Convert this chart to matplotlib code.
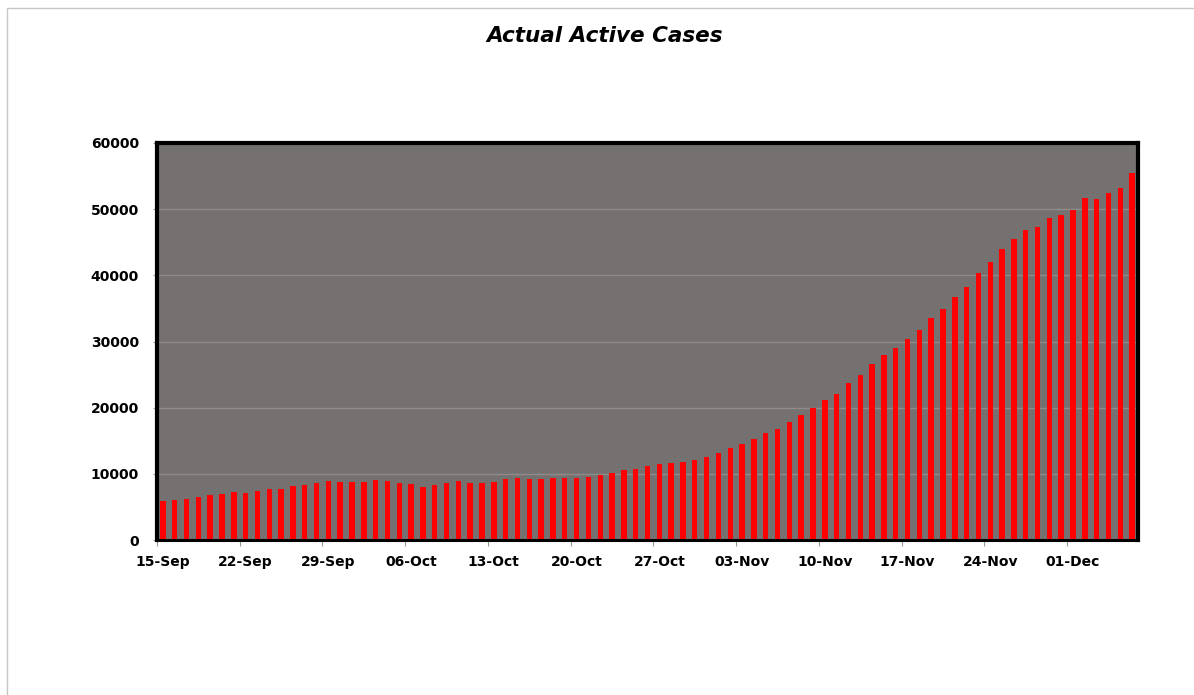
import matplotlib
matplotlib.use("Agg")
import matplotlib.pyplot as plt
from matplotlib.patches import Rectangle
import numpy as np
import pandas as pd

# daily active cases from 15-Sep onwards
start_date = "2020-09-15"
active_cases = [
    5900, 6000, 6200, 6500, 6870, 6970, 7280, 7030, 7330, 7740,
    7740, 8150, 8310, 8670, 8870, 8820, 8820, 8820, 9130, 8870,
    8560, 8510, 7950, 8310, 8620, 8870, 8560, 8670, 8770, 9180,
    9330, 9180, 9280, 9380, 9340, 9300, 9560, 9750, 10100, 10560,
    10710, 11120, 11520, 11570, 11780, 12030, 12540, 13150, 13910, 14570,
    15280, 16190, 16850, 17770, 18930, 20000, 21120, 22130, 23710, 24930,
    26530, 27980, 29090, 30350, 31720, 33480, 34950, 36670, 38280, 40350,
    42070, 43940, 45560, 46920, 47370, 48590, 49140, 49850, 51670, 51570,
    52420, 53180, 55450,
]
y_ticks = [0, 10000, 20000, 30000, 40000, 50000, 60000]
label_every = 7

dates = pd.date_range(start_date, periods=len(active_cases), freq="D")
x = np.arange(len(active_cases))

fig = plt.figure(figsize=(11.94, 6.95), dpi=100)
fig.patch.set_facecolor("white")

# thin grey outline around the chart area
fig.patches.append(Rectangle((7 / 1194, -0.02), 1.1, 1 - 8 / 695 + 0.02,
                             transform=fig.transFigure, fill=False,
                             edgecolor="#c6c6c6", linewidth=1.0))

ax = fig.add_axes([157 / 1194, 1 - 540 / 695, (1138 - 157) / 1194, (540 - 143) / 695])
ax.set_facecolor("#767171")

ax.bar(x, active_cases, width=0.46, color="#ff0000", linewidth=0, zorder=3)

ax.set_xlim(-0.5, len(active_cases) - 0.5)
ax.set_ylim(0, 60000)

ax.set_yticks(y_ticks)
ax.set_yticklabels([str(v) for v in y_ticks])
ax.yaxis.grid(True, color="#8f8b8b", linewidth=1.0, zorder=1)
ax.set_axisbelow(True)
ax.tick_params(axis="y", length=3, width=0.8, color="#9a9a9a", pad=10,
               labelsize=10)

# weekly labels on the bars, tick marks on the category edges
label_pos = x[::label_every]
ax.set_xticks(label_pos)
ax.set_xticklabels([d.strftime("%d-%b") for d in dates[::label_every]])
ax.tick_params(axis="x", which="major", length=0, pad=11, labelsize=10)
ax.set_xticks(label_pos - 0.5, minor=True)
ax.tick_params(axis="x", which="minor", length=4, width=0.8, color="#9a9a9a")

for lab in ax.get_xticklabels() + ax.get_yticklabels():
    lab.set_fontweight("bold")

for side in ["left", "top", "right"]:
    ax.spines[side].set_linewidth(3)
    ax.spines[side].set_color("black")
ax.spines["bottom"].set_linewidth(2.2)
ax.spines["bottom"].set_color("black")
for sp in ax.spines.values():
    sp.set_zorder(5)

fig.text(605 / 1194, 1 - 36 / 695, "Actual Active Cases", ha="center", va="center",
         fontsize=15.5, fontweight="bold", fontstyle="italic")

fig.savefig("out.png", dpi=100)
